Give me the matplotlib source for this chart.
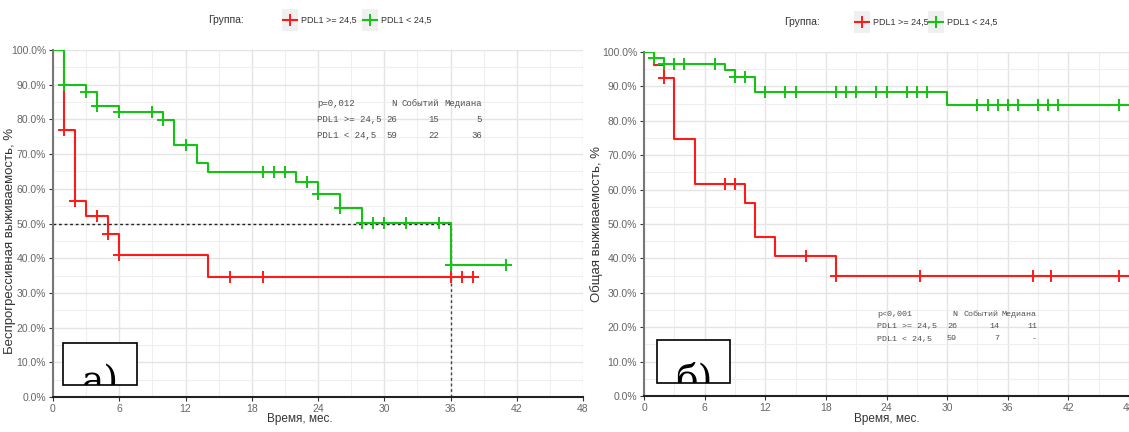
import numpy as np
import matplotlib
matplotlib.use("Agg")
import matplotlib.pyplot as plt
from matplotlib.lines import Line2D
from matplotlib.patches import Rectangle
from matplotlib.ticker import MultipleLocator, FuncFormatter

plt.rcParams['font.family'] = ['Liberation Sans', 'DejaVu Sans']

RED = '#ff1a1a'
GREEN = '#14c314'

# --- panel a: беспрогрессивная выживаемость ---
red_a_t = [0, 1, 2, 3, 5, 6, 14, 38]
red_a_s = [100, 76.9, 56.6, 52.2, 46.9, 41.0, 34.5, 34.5]
red_a_cens = [1, 2, 4, 5, 6, 16, 19, 36, 37, 38]

green_a_t = [0, 1, 3, 4, 6, 10, 11, 13, 14, 22, 24, 26, 28, 36, 41]
green_a_s = [100, 90.0, 88.0, 84.0, 82.2, 79.8, 72.6, 67.5, 64.7, 62.0, 58.4, 54.6, 50.2, 38.0, 38.0]
green_a_cens = [1, 3, 4, 6, 9, 10, 12, 19, 20, 21, 23, 24, 26, 28, 29, 30, 32, 35, 36, 41]

# --- panel b: общая выживаемость ---
red_b_t = [0, 1, 2, 3, 5, 10, 11, 13, 19, 48]
red_b_s = [100, 96.1, 92.4, 74.8, 61.6, 56.2, 46.1, 40.7, 34.9, 34.9]
red_b_cens = [2, 8, 9, 16, 19, 27.3, 38.5, 40.3, 47]

green_b_t = [0, 1, 2, 8, 9, 11, 30, 48]
green_b_s = [100, 98.3, 96.6, 94.7, 92.7, 88.5, 84.5, 84.5]
green_b_cens = [1, 2, 3, 4, 7, 9, 10, 12, 14, 15, 19, 20, 21, 23, 24, 26, 27, 28,
                33, 34, 35, 36, 37, 39, 40, 41, 47]

groups = ['PDL1 >= 24,5', 'PDL1 < 24,5']
table_a = [['p=0,012', 'N', 'Событий', 'Медиана'],
           ['PDL1 >= 24,5', '26', '15', '5'],
           ['PDL1 < 24,5', '59', '22', '36']]
table_b = [['p<0,001', 'N', 'Событий', 'Медиана'],
           ['PDL1 >= 24,5', '26', '14', '11'],
           ['PDL1 < 24,5', '59', '7', '-']]

W, H = 1129, 432
fig = plt.figure(figsize=(W / 100, H / 100), dpi=100)


def px_axes(x0, x1, ytop, ybot):
    return fig.add_axes([x0 / W, 1 - ybot / H, (x1 - x0) / W, (ybot - ytop) / H])


def surv_at(times, surv, t):
    i = np.searchsorted(times, t, side='right') - 1
    return surv[i]


def km(ax, times, surv, cens, color):
    ax.step(times, surv, where='post', color=color, lw=1.5, zorder=3)
    cy = [surv_at(times, surv, c) for c in cens]
    ax.plot(cens, cy, ls='none', marker='+', ms=8, mew=1.4, color=color, zorder=4)


def style(ax, ylabel):
    ax.set_xlim(0, 48)
    ax.set_ylim(0, 100)
    ax.xaxis.set_major_locator(MultipleLocator(6))
    ax.xaxis.set_minor_locator(MultipleLocator(3))
    ax.yaxis.set_major_locator(MultipleLocator(10))
    ax.yaxis.set_minor_locator(MultipleLocator(5))
    ax.yaxis.set_major_formatter(FuncFormatter(lambda v, p: f'{v:.1f}%'))
    ax.grid(which='major', color='#e4e4e4', lw=1.0)
    ax.grid(which='minor', color='#efefef', lw=0.8)
    ax.set_axisbelow(True)
    for s in ['top', 'right']:
        ax.spines[s].set_visible(False)
    ax.spines['left'].set_color('#777777')
    ax.spines['left'].set_linewidth(1.5)
    ax.spines['bottom'].set_color('#222222')
    ax.spines['bottom'].set_linewidth(1.5)
    ax.tick_params(which='major', length=3, pad=2, color='#333333', labelsize=7.5, labelcolor='#666666')
    ax.tick_params(which='minor', length=0)
    ax.set_xlabel('Время, мес.', fontsize=8.5, color='#333333')
    ax.set_ylabel(ylabel, fontsize=9.5, color='#333333')


def table(cols, rows, y0, dy, size):
    x_lbl, x_n, x_ev, x_med = cols
    for i, r in enumerate(rows):
        y = 1 - (y0 + i * dy) / H
        kw = dict(fontsize=size, color='#505050', family='Liberation Mono', va='center')
        fig.text(x_lbl / W, y, r[0], ha='left', **kw)
        fig.text(x_n / W, y, r[1], ha='right', **kw)
        fig.text(x_ev / W, y, r[2], ha='right', **kw)
        fig.text(x_med / W, y, r[3], ha='right', **kw)


def legend(xg, xr, xgr, y):
    yf = 1 - y / H
    fig.text(xg / W, yf, 'Группа:', ha='center', va='center', fontsize=7.5, color='#333333')
    for xk, col, lab in [(xr, RED, groups[0]), (xgr, GREEN, groups[1])]:
        fig.add_artist(Rectangle(((xk - 8) / W, 1 - (y + 11) / H), 16 / W, 22 / H,
                                 transform=fig.transFigure, color='#f0f0f0', lw=0))
        fig.add_artist(Line2D([(xk - 7) / W, (xk + 7) / W], [yf, yf], transform=fig.transFigure,
                              color=col, lw=1.5))
        fig.add_artist(Line2D([xk / W], [yf], transform=fig.transFigure, color=col,
                              marker='+', ms=8, mew=1.4))
        fig.text((xk + 11) / W, yf, lab, ha='left', va='center', fontsize=6.5, color='#333333')


def tag(x0, y0, x1, y1, txt):
    r = Rectangle((x0 / W, 1 - y1 / H), (x1 - x0) / W, (y1 - y0) / H, transform=fig.transFigure,
                  facecolor='white', edgecolor='black', lw=1.2, zorder=10)
    fig.add_artist(r)
    t = fig.text((x0 + x1) / 2 / W, 1 - (y1 + 7) / H, txt, ha='center', va='baseline',
                 fontsize=27, family='DejaVu Serif', zorder=11)
    t.set_clip_path(r)


# panel a
ax1 = px_axes(53, 583, 50, 397)
style(ax1, 'Беспрогрессивная выживаемость, %')
ax1.plot([0, 36], [50, 50], ls=(0, (2, 2)), color='#222222', lw=1.0, zorder=2)
ax1.plot([36, 36], [0, 50], ls=(0, (2, 2)), color='#444444', lw=1.0, zorder=2)
km(ax1, red_a_t, red_a_s, red_a_cens, RED)
km(ax1, green_a_t, green_a_s, green_a_cens, GREEN)
ax1.xaxis.set_label_coords((300 - 53) / 530, -0.047)
ax1.yaxis.set_label_coords((16 - 53) / 530, 0.45)
table((317, 397, 439, 482), table_a, 104, 16, 6.5)
legend(226, 290, 370, 20)
tag(63, 343, 137, 385, 'а)')

# panel b
ax2 = px_axes(644, 1129, 52, 396)
style(ax2, 'Общая выживаемость, %')
km(ax2, red_b_t, red_b_s, red_b_cens, RED)
km(ax2, green_b_t, green_b_s, green_b_cens, GREEN)
ax2.xaxis.set_label_coords(0.5, -0.05)
ax2.yaxis.set_label_coords((603 - 644) / 485, 0.5)
table((877, 957, 999, 1037), table_b, 314, 12.5, 6.0)
legend(802, 862, 936, 22)
tag(657, 340, 730, 383, 'б)')

fig.savefig('out.png', dpi=100)
